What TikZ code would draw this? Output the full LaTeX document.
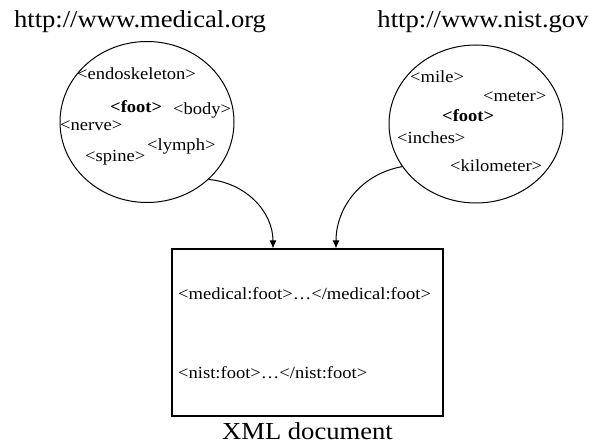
\documentclass[tikz,border=0pt]{standalone}
\usepackage{fontspec}
\setmainfont[FakeStretch=1.09]{Liberation Serif}
\usetikzlibrary{shapes.geometric,arrows.meta}

\begin{document}
\begin{tikzpicture}[x=1pt,y=1pt,
    tag/.style={font=\fontsize{17}{20}\selectfont, inner sep=0pt, anchor=base west},
    url/.style={font=\fontsize{24.4}{28}\selectfont, inner sep=0pt, anchor=base},
    space/.style={draw, ellipse, line width=1pt, minimum width=174pt, minimum height=161pt, inner sep=0pt},
    link/.style={line width=1pt, -{Latex[length=8pt,width=7pt]}}]
    \useasboundingbox (0,0) rectangle (592,445);

    \node[url] (medurl) at (140,417) {http://www.medical.org};
    \node[url] (nisturl) at (483,417) {http://www.nist.gov};

    \node[space] (medical) at (147,323) {};
        \node[tag] (endo) at (77,365) {<endoskeleton>};
        \node[tag] (mfoot) at (110,332) {\textbf{<foot>}};
        \node[tag] (body) at (173,330) {<body>};
        \node[tag] (nerve) at (60,314) {<nerve>};
        \node[tag] (lymph) at (147,294) {<lymph>};
        \node[tag] (spine) at (85,283) {<spine>};

    \node[space, minimum height=158pt] (nist) at (476,321) {};
        \node[tag] (mile) at (410,362) {<mile>};
        \node[tag] (meter) at (483,343) {<meter>};
        \node[tag] (nfoot) at (442,323) {\textbf{<foot>}};
        \node[tag] (inches) at (397,301) {<inches>};
        \node[tag] (kilo) at (450,273) {<kilometer>};

    \node[draw, line width=1.2pt, minimum width=271pt, minimum height=167pt, inner sep=0pt] (doc) at (307.5,112.5) {};
        \node[tag] (medfoot) at (178,145) {<medical:foot>…</medical:foot>};
        \node[tag] (nistfoot) at (178,67) {<nist:foot>…</nist:foot>};
    \node[url] (xml) at (307.5,6) {XML document};

    \draw[link] (medical.-43) to[out=-5,in=90] ([xshift=-34.5pt]doc.north);
    \draw[link] (nist.210) to[out=190,in=90] ([xshift=28.5pt]doc.north);
\end{tikzpicture}
\end{document}
